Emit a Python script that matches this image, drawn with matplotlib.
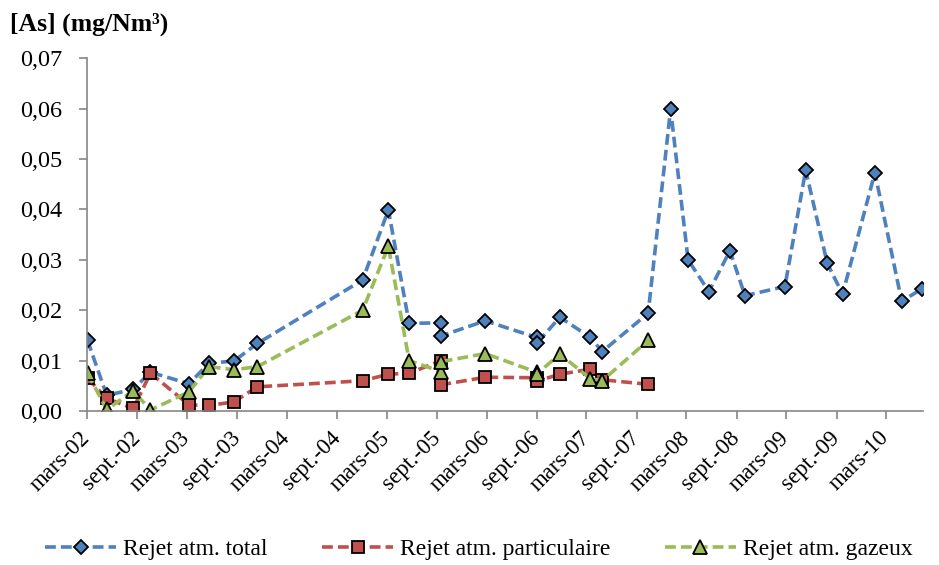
import numpy as np
import matplotlib
matplotlib.use("Agg")
import matplotlib.pyplot as plt

# sampling dates (two samples on 2005-09-16 and 2006-08-31)
dates = np.array([
    "2002-03-03", "2002-05-12", "2002-08-17", "2002-10-19", "2003-03-09",
    "2003-05-21", "2003-08-20", "2003-11-14", "2004-12-03", "2005-03-07",
    "2005-05-22", "2005-09-16", "2005-09-16", "2006-02-24", "2006-08-31",
    "2006-08-31", "2006-11-24", "2007-03-16", "2007-04-28", "2007-10-13",
    "2008-01-03", "2008-03-07", "2008-05-22", "2008-08-07", "2008-10-01",
    "2009-02-24", "2009-05-11", "2009-07-29", "2009-09-23", "2010-01-19",
    "2010-04-27", "2010-07-09",
], dtype="datetime64[D]")

total = [0.0140, 0.0031, 0.0043, 0.0077, 0.0054, 0.0095, 0.0099, 0.0134,
         0.0260, 0.0399, 0.0174, 0.0175, 0.0149, 0.0179, 0.0146, 0.0134,
         0.0186, 0.0146, 0.0118, 0.0194, 0.0599, 0.0300, 0.0237, 0.0318,
         0.0229, 0.0247, 0.0478, 0.0293, 0.0232, 0.0473, 0.0218, 0.0242]
particulaire = [0.0065, 0.0025, 0.0005, 0.0075, 0.0012, 0.0011, 0.0018,
                0.0048, 0.0060, 0.0073, 0.0075, 0.0100, 0.0052, 0.0067,
                0.0066, 0.0059, 0.0073, 0.0083, 0.0062, 0.0053]
gazeux = [0.0075, 0.0003, 0.0040, 0.0002, 0.0038, 0.0088, 0.0082, 0.0088,
          0.0200, 0.0327, 0.0100, 0.0078, 0.0098, 0.0114, 0.0077, 0.0073,
          0.0113, 0.0064, 0.0060, 0.0140]

tick_dates = np.array([
    "2002-03-01", "2002-09-01", "2003-03-01", "2003-09-01", "2004-03-01",
    "2004-09-01", "2005-03-01", "2005-09-01", "2006-03-01", "2006-09-01",
    "2007-03-01", "2007-09-01", "2008-03-01", "2008-09-01", "2009-03-01",
    "2009-09-01", "2010-03-01",
], dtype="datetime64[D]")
tick_labels = ["mars-02", "sept.-02", "mars-03", "sept.-03", "mars-04",
               "sept.-04", "mars-05", "sept.-05", "mars-06", "sept.-06",
               "mars-07", "sept.-07", "mars-08", "sept.-08", "mars-09",
               "sept.-09", "mars-10"]
y_ticks = [0.0, 0.01, 0.02, 0.03, 0.04, 0.05, 0.06, 0.07]

plt.rcParams["font.family"] = ["Liberation Serif", "DejaVu Serif"]
AXIS_GREY = "#868686"
DASH = (0, (3, 1.4))

fig = plt.figure(figsize=(9.39, 5.65), dpi=100)
ax = fig.add_axes([87 / 939, 1 - 411 / 565, (923 - 87) / 939, (411 - 58.3) / 565])

n = len(particulaire)
ax.plot(dates, total, color="#4F81BD", ls=DASH, lw=2.6, marker="D", ms=7.6,
        mfc="#4F81BD", mec="black", mew=1.3, label="Rejet atm. total")
ax.plot(dates[:n], particulaire, color="#C0504D", ls=DASH, lw=2.6, marker="s",
        ms=8.6, mfc="#C0504D", mec="black", mew=1.3,
        label="Rejet atm. particulaire")
ax.plot(dates[:n], gazeux, color="#9BBB59", ls=DASH, lw=2.6, marker="^",
        ms=9.6, mfc="#9BBB59", mec="black", mew=1.3,
        label="Rejet atm. gazeux")

ax.set_xlim(np.datetime64("2002-03-01"), np.datetime64("2010-07-14"))
ax.set_ylim(0, 0.07)
ax.set_yticks(y_ticks)
ax.set_yticklabels([f"{v:.2f}".replace(".", ",") for v in y_ticks])
ax.set_xticks(tick_dates)
ax.set_xticklabels(tick_labels, rotation=45, ha="right", va="center",
                   rotation_mode="anchor")

for side in ["top", "right"]:
    ax.spines[side].set_visible(False)
for side in ["left", "bottom"]:
    ax.spines[side].set_color(AXIS_GREY)
    ax.spines[side].set_linewidth(1.2)
ax.tick_params(axis="y", colors=AXIS_GREY, labelcolor="black", length=6,
               width=1.2, pad=12, labelsize=17.5)
ax.tick_params(axis="x", colors=AXIS_GREY, labelcolor="black", length=6,
               width=1.2, pad=11, labelsize=16.5)

fig.text(10 / 939, 1 - 31 / 565, "[As] (mg/Nm³)", fontsize=18.5,
         fontweight="bold", va="baseline", ha="left")

ax.legend(loc="lower center", bbox_to_anchor=(0.51, -0.012),
          bbox_transform=fig.transFigure, ncol=3, frameon=False,
          fontsize=17, handlelength=3.0, handletextpad=0.3,
          columnspacing=2.3, borderaxespad=0.1)

fig.savefig("out.png", dpi=100)
